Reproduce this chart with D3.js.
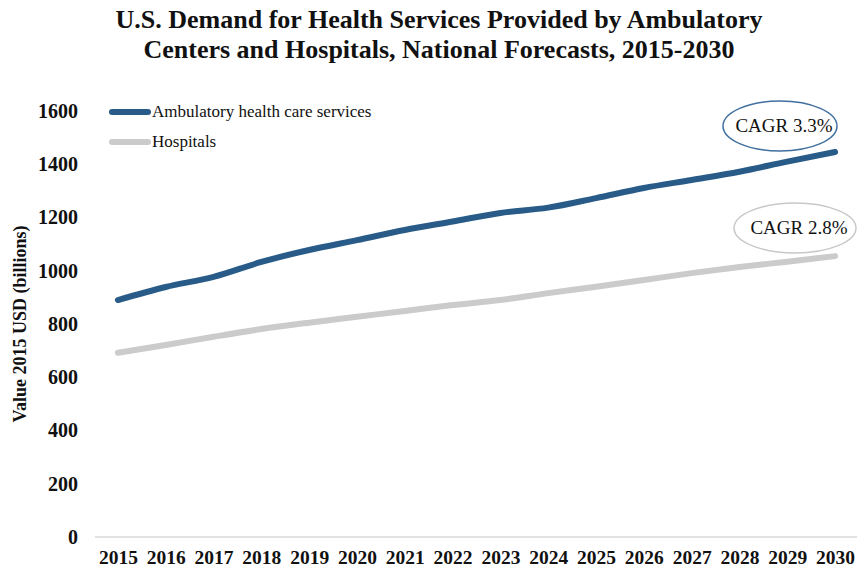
<!DOCTYPE html>
<html>
<head>
<meta charset="utf-8">
<script src="https://cdn.jsdelivr.net/npm/d3@7"></script>
<style>
  body { margin: 0; background: #fff; }
  svg { display: block; font-family: "Liberation Serif", "Times New Roman", serif; }
</style>
</head>
<body>
<div id="chart"></div>
<script>
const years = ['2015', '2016', '2017', '2018', '2019', '2020', '2021', '2022',
               '2023', '2024', '2025', '2026', '2027', '2028', '2029', '2030'];
const ambulatory = [890, 939, 977, 1033, 1078, 1115, 1153, 1185,
                    1217, 1237, 1273, 1311, 1341, 1372, 1410, 1446];
const hospitals = [692, 721, 752, 781, 805, 827, 849, 871,
                   890, 916, 940, 965, 991, 1014, 1034, 1055];
const yTicks = [0, 200, 400, 600, 800, 1000, 1200, 1400, 1600];

const width = 857;
const height = 575;

const svg = d3.select('#chart')
    .append('svg')
    .attr('width', width)
    .attr('height', height);

// Title
const title = svg.append('text')
    .attr('text-anchor', 'middle')
    .attr('font-weight', 'bold')
    .attr('font-size', 26)
    .attr('fill', '#111');
title.append('tspan').attr('x', 439).attr('y', 28)
    .text('U.S. Demand for Health Services Provided by Ambulatory');
title.append('tspan').attr('x', 439).attr('y', 58)
    .text('Centers and Hospitals, National Forecasts, 2015-2030');

// Scales
const x = d3.scalePoint()
    .domain(years)
    .range([94, 859])
    .padding(0.5);

const y = d3.scaleLinear()
    .domain([0, 1600])
    .range([537, 111]);

// Baseline
svg.append('line')
    .attr('x1', 95).attr('x2', width)
    .attr('y1', y(0)).attr('y2', y(0))
    .attr('stroke', '#d9d9d9')
    .attr('stroke-width', 1.5);

// Y axis
const yAxis = d3.axisLeft(y)
    .tickValues(yTicks)
    .tickSize(0)
    .tickPadding(0)
    .tickFormat(d => d);

svg.append('g')
    .attr('transform', 'translate(78,0)')
    .call(yAxis)
    .call(g => g.select('.domain').remove())
    .selectAll('text')
    .attr('font-family', '"Liberation Serif", serif')
    .attr('font-weight', 'bold')
    .attr('font-size', 20)
    .attr('fill', '#111');

// X axis
const xAxis = d3.axisBottom(x)
    .tickSize(0)
    .tickPadding(0);

svg.append('g')
    .attr('transform', `translate(0,${y(0) + 13})`)
    .call(xAxis)
    .call(g => g.select('.domain').remove())
    .selectAll('text')
    .attr('font-family', '"Liberation Serif", serif')
    .attr('font-weight', 'bold')
    .attr('font-size', 19.5)
    .attr('fill', '#111');

// Y axis title
svg.append('text')
    .attr('transform', 'translate(26,324) rotate(-90)')
    .attr('text-anchor', 'middle')
    .attr('font-weight', 'bold')
    .attr('font-size', 18)
    .attr('fill', '#111')
    .text('Value 2015 USD (billions)');

// Lines
const line = d3.line()
    .x((d, i) => x(years[i]))
    .y(d => y(d))
    .curve(d3.curveMonotoneX);

const series = [
    { name: 'Ambulatory health care services', values: ambulatory, color: '#285b87' },
    { name: 'Hospitals', values: hospitals, color: '#cbcbcb' }
];

svg.selectAll('.series')
    .data(series.slice().reverse())
    .enter()
    .append('path')
    .attr('class', 'series')
    .attr('d', d => line(d.values))
    .attr('fill', 'none')
    .attr('stroke', d => d.color)
    .attr('stroke-width', 6)
    .attr('stroke-linecap', 'round')
    .attr('stroke-linejoin', 'round');

// Legend
const legend = svg.selectAll('.legend')
    .data(series)
    .enter()
    .append('g')
    .attr('class', 'legend')
    .attr('transform', (d, i) => `translate(112,${112 + i * 30})`);

legend.append('line')
    .attr('x1', 0).attr('x2', 36)
    .attr('stroke', d => d.color)
    .attr('stroke-width', 6)
    .attr('stroke-linecap', 'round');

legend.append('text')
    .attr('x', 40)
    .attr('y', 5)
    .attr('font-size', 17)
    .attr('fill', '#111')
    .text(d => d.name);

// CAGR callouts
const callouts = [
    { label: 'CAGR 3.3%', cx: 780, cy: 126, rx: 57, ry: 25, color: '#3f6f9e' },
    { label: 'CAGR 2.8%', cx: 795, cy: 228, rx: 61, ry: 25, color: '#c8c8c8' }
];

const co = svg.selectAll('.callout')
    .data(callouts)
    .enter()
    .append('g')
    .attr('class', 'callout');

co.append('ellipse')
    .attr('cx', d => d.cx).attr('cy', d => d.cy)
    .attr('rx', d => d.rx).attr('ry', d => d.ry)
    .attr('fill', '#fff')
    .attr('stroke', d => d.color)
    .attr('stroke-width', 1.5);

co.append('text')
    .attr('x', d => d.cx + 4)
    .attr('y', d => d.cy + 6)
    .attr('text-anchor', 'middle')
    .attr('font-size', 19)
    .attr('fill', '#111')
    .text(d => d.label);
</script>
</body>
</html>
